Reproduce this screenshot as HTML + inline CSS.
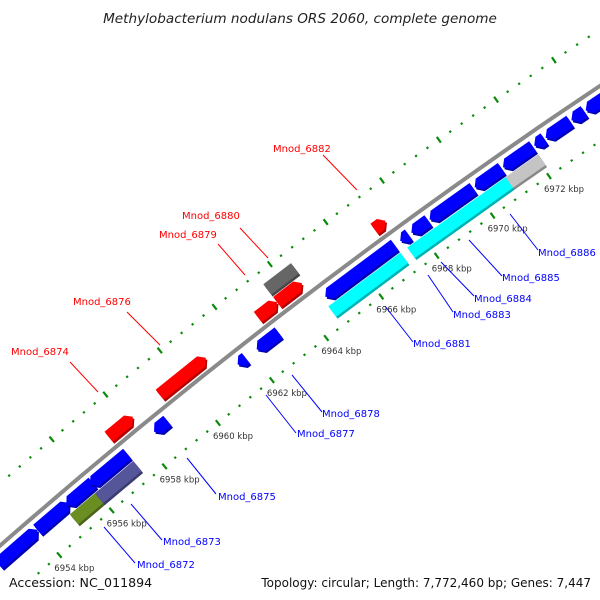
<!DOCTYPE html>
<html><head><meta charset="utf-8"><style>
html,body{margin:0;padding:0;background:#fff;width:600px;height:600px;overflow:hidden;}
svg{display:block;overflow:hidden;font-family:"DejaVu Sans","Liberation Sans",sans-serif;}
</style></head><body>
<svg id="chart" width="600" height="600" viewBox="0 0 600 600" xmlns="http://www.w3.org/2000/svg">
<rect width="600" height="600" fill="#fff"/>
<g id="ticks"></g>
<g id="backbone"></g>
<g id="genes"></g>
<g id="klabels"></g>
<g font-size="10">
<g stroke="#f00" stroke-width="1">
<line x1="323" y1="155" x2="357" y2="190"/><line x1="240" y1="228" x2="268" y2="258"/>
<line x1="218" y1="244" x2="245" y2="275"/><line x1="127" y1="312" x2="160" y2="345"/>
<line x1="70" y1="362" x2="98" y2="392"/></g>
<g fill="#f00">
<text x="273" y="152">Mnod_6882</text>
<text x="182" y="219">Mnod_6880</text>
<text x="159" y="238">Mnod_6879</text>
<text x="73" y="305">Mnod_6876</text>
<text x="11" y="355">Mnod_6874</text></g>
<g stroke="#00f" stroke-width="1">
<line x1="510" y1="214" x2="538" y2="250"/><line x1="469" y1="240" x2="502" y2="276"/>
<line x1="441" y1="262" x2="474" y2="296"/><line x1="428" y1="275" x2="453" y2="312"/>
<line x1="385" y1="306" x2="413" y2="342"/><line x1="292" y1="375" x2="322" y2="412"/>
<line x1="266" y1="395" x2="296" y2="433"/><line x1="187" y1="458" x2="216" y2="494"/>
<line x1="131" y1="504" x2="162" y2="540"/><line x1="104" y1="527" x2="135" y2="563"/></g>
<g fill="#00f">
<text x="538" y="256">Mnod_6886</text>
<text x="502" y="281">Mnod_6885</text>
<text x="474" y="302">Mnod_6884</text>
<text x="453" y="318">Mnod_6883</text>
<text x="413" y="347">Mnod_6881</text>
<text x="322" y="417">Mnod_6878</text>
<text x="297" y="437">Mnod_6877</text>
<text x="218" y="500">Mnod_6875</text>
<text x="163" y="545">Mnod_6873</text>
<text x="137" y="568">Mnod_6872</text></g>
</g>
<text x="300" y="23" text-anchor="middle" font-size="13.6" font-style="italic" fill="#222">Methylobacterium nodulans ORS 2060, complete genome</text>
<text x="9" y="587" font-size="12.6" fill="#111">Accession: NC_011894</text>
<text x="591" y="587" text-anchor="end" font-size="12" fill="#111">Topology: circular; Length: 7,772,460 bp; Genes: 7,447</text>
</svg>
<script>
const geneStart = [6952.5,6954.0,6955.1,6956.0,6958.4,6961.5,6962.2,6964.7,6967.4,6967.8,6968.45,6970.05,6971.05,6972.15,6972.55,6973.45,6973.95,6974.65, 6957.3,6959.2,6962.8,6963.5,6967.0, 6963.5, 6955.0,6955.95,6964.6,6967.45,6970.95];
const geneEnd   = [6954.0,6955.2,6956.1,6957.4,6958.9,6961.8,6963.0,6967.2,6967.7,6968.4,6970.0,6971.0,6972.1,6972.5,6973.4,6973.9,6974.6,6975.5, 6958.2,6960.9,6963.5,6964.4,6967.4, 6964.5, 6956.0,6957.4,6967.2,6971.0,6972.1];
const geneStrand= [1,1,-1,-1,-1,-1,-1,-1,-1,-1,-1,-1,-1,-1,-1,-1,-1,-1, 1,1,1,1,1, 0, 0,0,0,0,0];
const geneTrack = [-1,-1,-1,-1,-1,-1,-1,-1,-1,-1,-1,-1,-1,-1,-1,-1,-1,-1, 1,1,1,1,1, 2, -2,-2,-2,-2,-2];
const geneColor = ['#0000ff','#0000ff','#0000ff','#0000ff','#0000ff','#0000ff','#0000ff','#0000ff','#0000ff','#0000ff','#0000ff','#0000ff','#0000ff','#0000ff','#0000ff','#0000ff','#0000ff','#0000ff','#ff0000','#ff0000','#ff0000','#ff0000','#ff0000','#666666','#6b8e23','#55559a','#00ffff','#00ffff','#c4c4c4'];
const tickLabels = [6954,6956,6958,6960,6962,6964,6966,6968,6970,6972];
const tickStart = 6953.2, tickEnd = 6977.2, tickStep = 0.4;

const NS = 'http://www.w3.org/2000/svg';
const CX = 3828, CY = 4919, R = 5812;
function ang(k){ return (-130.13 + (k-6956)*0.342) * Math.PI/180; }
function pt(k, r){ const a = ang(k); return [CX + r*Math.cos(a), CY + r*Math.sin(a)]; }
function mk(tag, attrs, parent){ const e = document.createElementNS(NS, tag); for (const a in attrs) e.setAttribute(a, attrs[a]); parent.appendChild(e); return e; }

const bb = document.getElementById('backbone');
let d = '';
for (let k = 6951.5; k <= 6977; k += 0.5){ const p = pt(k, R); d += (d ? 'L' : 'M') + p[0].toFixed(1) + ',' + p[1].toFixed(1); }
const bl = mk('path', {d: d, fill: 'none', stroke: '#8a8a8a', 'stroke-width': 4}, bb);



const tg = document.getElementById('ticks');
[R-46, R+47].forEach(function(rt){
  for (let i = 0; tickStart + i*tickStep <= tickEnd; i++){
    const k = tickStart + i*tickStep;
    const a0 = pt(k, rt);
    if (a0[1] > 597 || a0[1] < 2 || a0[0] < 0 || a0[0] > 600) continue;
    const major = Math.abs(k/2 - Math.round(k/2)) < 0.01;
    const h = major ? 3.5 : 1.1;
    const a = pt(k, rt - h), b = pt(k, rt + h);
    const t = mk('line', {x1: a[0], y1: a[1], x2: b[0], y2: b[1], stroke: '#0a8a0a', 'stroke-width': 2.2}, tg);
    
    
  }
});

const kl = document.getElementById('klabels');
tickLabels.forEach(function(k){
  const p = pt(k, R-46);
  const t = mk('text', {x: p[0]-5, y: p[1]+16, 'font-size': 8.5, fill: '#333'}, kl);
  t.textContent = k + ' kbp';
  
  
});

const trackR = {'-1': [R-19, R-6], '1': [R+6, R+19], '2': [R+22, R+35], '-2': [R-35, R-22]};
function shade(c, f){ const n = parseInt(c.slice(1), 16); const r = (n>>16)&255, g = (n>>8)&255, b = n&255; return 'rgb(' + Math.round(r*f) + ',' + Math.round(g*f) + ',' + Math.round(b*f) + ')'; }
const gg = document.getElementById('genes');
for (let i = 0; i < geneStart.length; i++){
  const s = geneStart[i], e = geneEnd[i], rr = trackR[String(geneTrack[i])];
  const r1 = rr[0], r2 = rr[1], rm = (r1+r2)/2;
  const h = Math.min(0.17, (e-s)*0.6);
  let pts;
  if (geneStrand[i] === 1) pts = [pt(s,r1), pt(e-h,r1), pt(e,rm), pt(e-h,r2), pt(s,r2)];
  else if (geneStrand[i] === -1) pts = [pt(s,rm), pt(s+h,r1), pt(e,r1), pt(e,r2), pt(s+h,r2)];
  else pts = [pt(s,r1), pt(e,r1), pt(e,r2), pt(s,r2)];
  const ps = pts.map(function(p){ return p[0].toFixed(1) + ',' + p[1].toFixed(1); }).join(' ');
  const g = mk('g', {}, gg);
  
  
  mk('polygon', {points: ps, fill: shade(geneColor[i], 0.7), transform: 'translate(1.5,2)'}, g);
  mk('polygon', {points: ps, fill: geneColor[i]}, g);
}
</script>
</body></html>
